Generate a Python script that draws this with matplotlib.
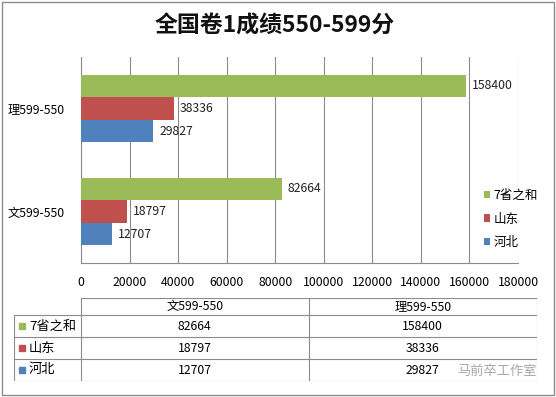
import numpy as np
import matplotlib
matplotlib.use("Agg")
import matplotlib.pyplot as plt
from matplotlib.patches import Rectangle

plt.rcParams['font.family'] = ['Noto Sans CJK SC', 'DejaVu Sans']

# data
categories = ['文599-550', '理599-550']
series = ['河北', '山东', '7省之和']
hebei = [12707, 29827]
shandong = [18797, 38336]
total7 = [82664, 158400]
colors = ['#4F81BD', '#C0504D', '#9BBB59']
xticks = np.arange(0, 180001, 20000)

fig = plt.figure(figsize=(5.56, 3.97), dpi=100)
ax = fig.add_axes([81/556, 1-263/397, (518-81)/556, (263-57)/397])

y = np.arange(len(categories))
h = 0.22
values = [hebei, shandong, total7]
for i, (name, vals, c) in enumerate(zip(series, values, colors)):
    bars = ax.barh(y + (i-1)*h, vals, height=h, color=c, label=name, zorder=3)
    for b, v in zip(bars, vals):
        ax.text(b.get_width() + 2500, b.get_y() + b.get_height()/2, str(v),
                va='center', ha='left', fontsize=8.8, color='#222222')

ax.set_xlim(0, 180000)
ax.set_ylim(-0.5, 1.5)
ax.set_xticks(xticks)
ax.set_xticklabels([str(t) for t in xticks], fontsize=8.8)
ax.set_yticks(y)
ax.set_yticklabels(categories, fontsize=8.8)
ax.tick_params(length=0, pad=12)
ax.tick_params(axis='x', pad=9)
ax.grid(axis='x', color='#8c8c8c', lw=0.8, zorder=0)
for s in ['top', 'right']:
    ax.spines[s].set_visible(False)
for s in ['left', 'bottom']:
    ax.spines[s].set_color('#8c8c8c')
    ax.spines[s].set_linewidth(0.8)

handles, labels = ax.get_legend_handles_labels()
leg = fig.legend(handles[::-1], labels[::-1], loc='center left',
                 bbox_to_anchor=(481/556, 1-219/397), fontsize=9,
                 frameon=True, handlelength=0.55, handleheight=0.55,
                 handletextpad=0.25, labelspacing=0.85, borderpad=0.2,
                 borderaxespad=0)
leg.get_frame().set_edgecolor('white')
leg.get_frame().set_facecolor('white')

fig.text(275/556, 1-26/397, '全国卷1成绩550-599分', ha='center', va='center',
         fontsize=16.5, fontweight='bold', color='#111111')

# data table below the chart
tx0, tx1, ty0, ty1 = 14, 537, 298, 381
tab = fig.add_axes([tx0/556, 1-ty1/397, (tx1-tx0)/556, (ty1-ty0)/397])
tab.set_xlim(tx0, tx1)
tab.set_ylim(ty1, ty0)
tab.axis('off')
col_edges = [14, 81, 308.5, 537]
row_edges = [298, 315, 337, 359, 381]
lc = '#8c8c8c'
# header row (no cell above the row labels)
tab.plot([col_edges[1], col_edges[3]], [row_edges[0]]*2, color=lc, lw=0.8)
for r in row_edges[1:]:
    tab.plot([col_edges[0], col_edges[3]], [r, r], color=lc, lw=0.8)
tab.plot([col_edges[0]]*2, [row_edges[1], row_edges[-1]], color=lc, lw=0.8)
for cx in col_edges[1:]:
    tab.plot([cx, cx], [row_edges[0], row_edges[-1]], color=lc, lw=0.8)
for j, cat in enumerate(categories):
    tab.text((col_edges[j+1]+col_edges[j+2])/2, (row_edges[0]+row_edges[1])/2, cat,
             ha='center', va='center', fontsize=8.8)
for i, (name, vals, c) in enumerate(zip(series[::-1], values[::-1], colors[::-1])):
    yc = (row_edges[i+1]+row_edges[i+2])/2
    tab.add_patch(Rectangle((19, yc-3), 6, 6, color=c))
    tab.text(29, yc, name, ha='left', va='center', fontsize=9.5)
    for j, v in enumerate(vals):
        tab.text((col_edges[j+1]+col_edges[j+2])/2, yc, str(v),
                 ha='center', va='center', fontsize=8.8)

# watermark
fig.text(497/556, 1-371/397, '马前卒工作室', ha='center', va='center',
         fontsize=9.5, color='#a8a8a8')

fig.patches.append(Rectangle((0.003, 0.004), 0.993, 0.992, transform=fig.transFigure,
                             fill=False, ec='#8c8c8c', lw=1))

fig.savefig('out.png', dpi=100)
